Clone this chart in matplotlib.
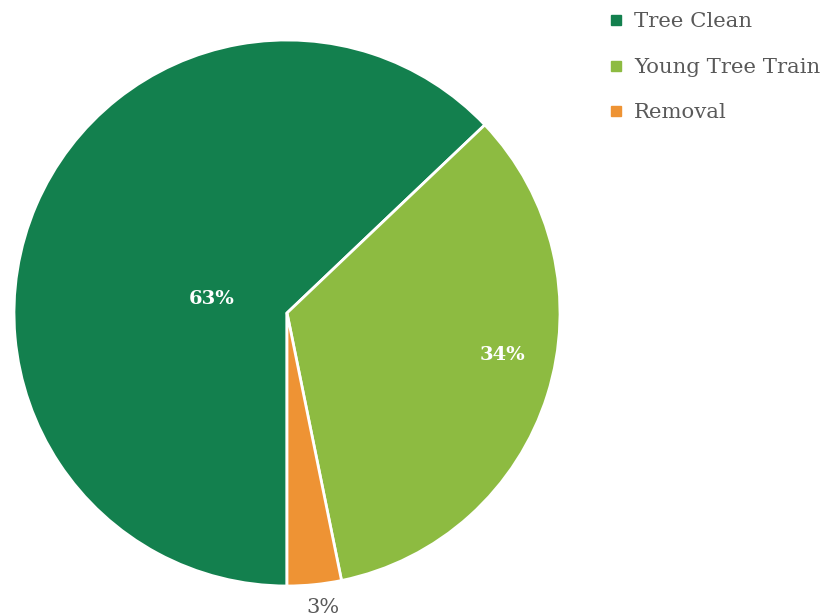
import matplotlib
matplotlib.use("Agg")
import matplotlib.pyplot as plt
from matplotlib.lines import Line2D

categories = ["Tree Clean", "Young Tree Train", "Removal"]
values = [62.9, 33.9, 3.2]
pct_labels = ["63%", "34%", "3%"]
colors = ["#13804E", "#8DBB41", "#EE9334"]

W, H = 821, 616
fig = plt.figure(figsize=(W / 100, H / 100), dpi=100)
cx, cy, r = 287, 313, 273
ax = fig.add_axes([(cx - r) / W, (H - cy - r) / H, 2 * r / W, 2 * r / H])

wedges, _ = ax.pie(values, colors=colors, startangle=270, counterclock=False,
                   radius=1.0,
                   wedgeprops=dict(edgecolor="white", linewidth=2.0))
ax.set_xlim(-1, 1)
ax.set_ylim(-1, 1)
ax.set_aspect("auto")
ax.axis("off")

font = "DejaVu Serif"
label_pos = [(-0.275, 0.05), (0.79, -0.155), (0.13, -1.078)]
label_col = ["white", "white", "#595959"]
label_wt = ["bold", "bold", "normal"]
label_sz = [14, 14, 15]
for (x, y), t, c, w, s in zip(label_pos, pct_labels, label_col, label_wt, label_sz):
    ax.text(x, y, t, ha="center", va="center", color=c, fontweight=w,
            fontsize=s, family=font, clip_on=False)

handles = [Line2D([], [], marker="s", linestyle="none", markersize=7,
                  markerfacecolor=c, markeredgecolor=c) for c in colors]
leg = fig.legend(handles, categories, loc="upper left",
                 bbox_to_anchor=(603 / W, 1 - 6 / H), frameon=False,
                 prop=dict(family=font, size=15.3), labelcolor="#595959",
                 handlelength=0.65, handletextpad=0.5, labelspacing=1.25,
                 borderaxespad=0, borderpad=0.3)

fig.savefig("out.png", dpi=100)
